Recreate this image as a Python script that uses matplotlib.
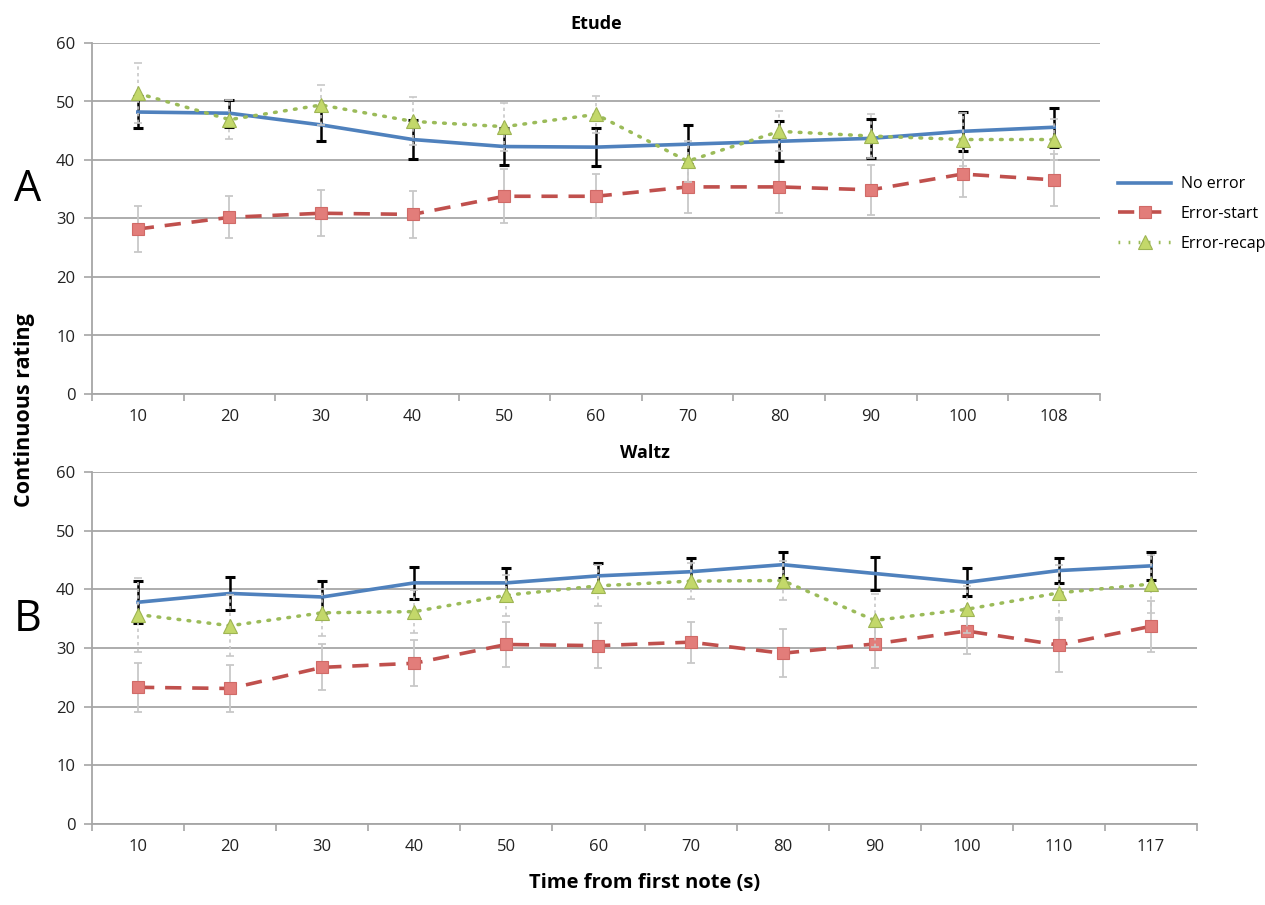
import numpy as np
import matplotlib
matplotlib.use('Agg')
import matplotlib.pyplot as plt
from matplotlib.lines import Line2D

plt.rcParams['font.family'] = ['Open Sans', 'DejaVu Sans']

# Etude (panel A)
etude_times = ['10', '20', '30', '40', '50', '60', '70', '80', '90', '100', '108']
etude_no_error = [48.2, 48.0, 46.0, 43.5, 42.3, 42.2, 42.7, 43.2, 43.7, 44.9, 45.6]
etude_no_error_err = [2.7, 2.3, 2.8, 3.3, 3.2, 3.3, 3.3, 3.4, 3.3, 3.3, 3.3]
etude_start = [28.2, 30.2, 30.9, 30.7, 33.8, 33.8, 35.4, 35.4, 34.9, 37.6, 36.6]
etude_start_err = [4.0, 3.6, 3.9, 4.0, 4.6, 3.8, 4.4, 4.4, 4.3, 4.0, 4.4]
etude_recap = [51.4, 46.9, 49.4, 46.6, 45.7, 47.8, 39.8, 44.9, 44.1, 43.5, 43.5]
etude_recap_err = [5.1, 3.3, 3.5, 4.1, 4.1, 3.2, 3.5, 3.4, 3.7, 4.5, 3.5]

# Waltz (panel B)
waltz_times = ['10', '20', '30', '40', '50', '60', '70', '80', '90', '100', '110', '117']
waltz_no_error = [37.8, 39.3, 38.7, 41.1, 41.1, 42.3, 43.0, 44.2, 42.7, 41.2, 43.2, 44.0]
waltz_no_error_err = [3.6, 2.8, 2.7, 2.7, 2.6, 2.2, 2.3, 2.2, 2.8, 2.4, 2.2, 2.4]
waltz_start = [23.3, 23.1, 26.7, 27.4, 30.6, 30.4, 31.0, 29.1, 30.7, 32.9, 30.5, 33.7]
waltz_start_err = [4.2, 4.0, 3.9, 3.9, 3.8, 3.8, 3.5, 4.1, 4.1, 4.0, 4.6, 4.3]
waltz_recap = [35.7, 33.8, 36.0, 36.2, 39.0, 40.6, 41.4, 41.5, 34.7, 36.6, 39.4, 40.9]
waltz_recap_err = [6.3, 5.2, 4.0, 3.7, 3.5, 3.5, 3.1, 3.3, 4.5, 4.0, 4.7, 5.0]

BLUE = '#4F81BD'
RED = '#C0504D'
RED_FILL = '#E27D7A'
GREEN = '#9BBB59'
GREEN_FILL = '#C3D86A'
GRID = '#A6A6A6'
ERR_GRAY = '#C8C8C8'

RED_LS = (0, (4.5, 3))
GREEN_LS = (0, (0.5, 2.4))


def draw_panel(ax, times, no_err, no_err_e, start, start_e, recap, recap_e, title):
    x = np.arange(len(times))
    # error bars
    ax.errorbar(x, start, yerr=start_e, fmt='none', ecolor=ERR_GRAY,
                elinewidth=1.3, capsize=2.6, capthick=1.3, zorder=3)
    ax.errorbar(x, no_err, yerr=no_err_e, fmt='none', ecolor='black',
                elinewidth=1.8, capsize=3.8, capthick=2.2, zorder=3)
    eb = ax.errorbar(x, recap, yerr=recap_e, fmt='none', ecolor=ERR_GRAY,
                     elinewidth=1.2, capsize=2.6, capthick=1.2, zorder=5)
    for lc in eb[2]:
        lc.set_linestyle((0, (2, 2)))

    ax.plot(x, no_err, color=BLUE, lw=2.6, zorder=4)
    ax.plot(x, start, color=RED, lw=2.6, ls=RED_LS, marker='s',
            ms=8, mfc=RED_FILL, mec='#D06A67', mew=0.8, zorder=4)
    ax.plot(x, recap, color=GREEN, lw=2.5, ls=GREEN_LS,
            dash_capstyle='round', marker='^', ms=9.5, mfc=GREEN_FILL,
            mec='#9DB452', mew=0.8, zorder=6)

    ax.set_xlim(-0.5, len(times) - 0.5)
    ax.set_ylim(0, 60)
    ax.set_yticks(range(0, 61, 10))
    ax.set_xticks(x)
    ax.set_xticklabels(times)
    ax.set_xticks(np.arange(-0.5, len(times), 1.0), minor=True)
    ax.tick_params(axis='x', which='major', length=0, pad=11, labelsize=12,
                   colors='#222222')
    ax.tick_params(axis='x', which='minor', length=5, width=1.2, color=GRID)
    ax.tick_params(axis='y', length=6, width=1.2, color=GRID, pad=6,
                   labelsize=12, labelcolor='#222222')
    ax.yaxis.grid(True, color=GRID, lw=1.3)
    ax.set_axisbelow(True)
    for s in ['top', 'right']:
        ax.spines[s].set_visible(False)
    for s in ['left', 'bottom']:
        ax.spines[s].set_color(GRID)
        ax.spines[s].set_linewidth(1.3)
    ax.set_title(title, fontsize=13, fontweight='bold', pad=10)


fig = plt.figure(figsize=(12.65, 9.05), dpi=100)
ax1 = fig.add_axes([92 / 1265, 1 - 394 / 905, 1008 / 1265, 351 / 905])
ax2 = fig.add_axes([92 / 1265, 1 - 824 / 905, 1105 / 1265, 352 / 905])

draw_panel(ax1, etude_times, etude_no_error, etude_no_error_err, etude_start,
           etude_start_err, etude_recap, etude_recap_err, 'Etude')
draw_panel(ax2, waltz_times, waltz_no_error, waltz_no_error_err, waltz_start,
           waltz_start_err, waltz_recap, waltz_recap_err, 'Waltz')

fig.text(25 / 1265, 1 - 410 / 905, 'Continuous rating', rotation=90,
         ha='center', va='center', fontsize=15.5, fontweight='bold')
fig.text(645 / 1265, 1 - 883 / 905, 'Time from first note (s)',
         ha='center', va='center', fontsize=14.5, fontweight='bold')
fig.text(28 / 1265, 1 - 190 / 905, 'A', ha='center', va='center', fontsize=31)
fig.text(28 / 1265, 1 - 620 / 905, 'B', ha='center', va='center', fontsize=31)

handles = [
    Line2D([], [], color=BLUE, lw=2.6),
    Line2D([], [], color=RED, lw=2.6, ls=RED_LS, marker='s', ms=8,
           mfc=RED_FILL, mec='#D06A67', mew=0.8),
    Line2D([], [], color=GREEN, lw=2.5, ls=GREEN_LS, marker='^', ms=9.5,
           mfc=GREEN_FILL, mec='#9DB452', mew=0.8),
]
fig.legend(handles, ['No error', 'Error-start', 'Error-recap'],
           loc='center left', bbox_to_anchor=(1104 / 1265, 1 - 214 / 905),
           frameon=False, fontsize=11.5, handlelength=3.3, labelspacing=0.85,
           handletextpad=0.6)

fig.savefig('out.png', dpi=100)
